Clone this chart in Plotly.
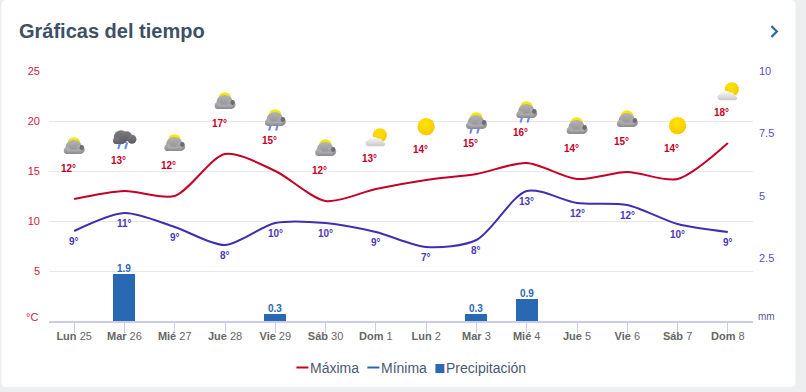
import base64
import plotly.graph_objects as go

day_names = ["Lun", "Mar", "Mié", "Jue", "Vie", "Sáb", "Dom", "Lun", "Mar", "Mié", "Jue", "Vie", "Sáb", "Dom"]
day_numbers = [25, 26, 27, 28, 29, 30, 1, 2, 3, 4, 5, 6, 7, 8]
max_curve = [12.2, 13.0, 12.5, 16.7, 15.0, 12.0, 13.2, 14.1, 14.7, 15.8, 14.2, 14.9, 14.2, 17.8]
min_curve = [9.0, 10.8, 9.4, 7.6, 9.8, 9.8, 8.9, 7.4, 8.1, 13.0, 11.8, 11.6, 9.7, 8.9]
max_labels = [12, 13, 12, 17, 15, 12, 13, 14, 15, 16, 14, 15, 14, 18]
min_labels = [9, 11, 9, 8, 10, 10, 9, 7, 8, 13, 12, 12, 10, 9]
rain = [None, 1.9, None, None, 0.3, None, None, None, 0.3, 0.9, None, None, None, None]
sky = ["partly", "storm", "partly", "partly", "shower", "partly", "fair", "sun",
       "shower", "shower", "partly", "partly", "sun", "fair"]
left_ticks = [5, 10, 15, 20, 25]
right_ticks = [2.5, 5, 7.5, 10]
names = ["Máxima", "Mínima", "Precipitación"]

W, H = 806, 392
L, R, T, B = 48.6, 53.4, 71, 71
pw, ph = W - L - R, H - T - B
RED, INDIGO, BLUE = "#c40028", "#3f2fb0", "#2968b2"
FONT = "Liberation Sans, Arial, sans-serif"


def px(x):
    return (x - L) / pw


def py(y):
    return (H - B - y) / ph


DEFS = """<defs>
<linearGradient id='g' x1='0' y1='0' x2='0' y2='1'><stop offset='0' stop-color='#b4b4b6'/><stop offset='1' stop-color='#88888c'/></linearGradient>
<linearGradient id='w' x1='0' y1='0' x2='0' y2='1'><stop offset='0' stop-color='#fafafa'/><stop offset='1' stop-color='#c8c8cc'/></linearGradient>
<linearGradient id='d' x1='0' y1='0' x2='0' y2='1'><stop offset='0' stop-color='#7c7c80'/><stop offset='1' stop-color='#5c5c62'/></linearGradient>
<radialGradient id='s' cx='.45' cy='.35' r='.7'><stop offset='0' stop-color='#ffe600'/><stop offset='1' stop-color='#f7c400'/></radialGradient>
<clipPath id='c'><rect x='0' y='0' width='26' height='22.2'/></clipPath>
</defs>"""
CLOUD = ("<g clip-path='url(#c)' fill='url(#{0})'><ellipse cx='12.6' cy='15.5' rx='8.2' ry='7.2'/>"
         "<circle cx='6' cy='19' r='3.4'/><circle cx='19.2' cy='17.8' r='4.4'/>"
         "<rect x='6' y='18' width='14' height='4.2'/></g>")
SUN_TOP = "<ellipse cx='12.8' cy='11' rx='6.2' ry='5.5' fill='#f5e800'/>"
SMUDGE = "<ellipse cx='20.6' cy='15.8' rx='2.2' ry='2.4' fill='#6e6e72'/>"
DROPS = "<path d='M8.5 21 L7 26 M15.5 21 L14 26' stroke='#6a8cf5' stroke-width='2.2' stroke-linecap='round'/>"
ICONS = {
    "partly": SUN_TOP + CLOUD.format("g") + SMUDGE,
    "shower": DROPS + SUN_TOP + CLOUD.format("g") + SMUDGE,
    "storm": DROPS.replace("21 L7 26", "19.5 L7 24.5").replace("21 L14 26", "19.5 L14 24.5")
             + "<g fill='url(#d)'><ellipse cx='9.5' cy='13.5' rx='7' ry='7'/><circle cx='15.5' cy='12.5' r='5'/>"
               "<circle cx='20.5' cy='15.5' r='4.5'/><circle cx='5' cy='17' r='3.4'/></g>",
    "sun": "<circle cx='13' cy='14' r='8.6' fill='url(#s)'/>",
    "fair": "<circle cx='17' cy='13.5' r='7' fill='url(#s)'/>"
            "<path d='M5.8 24.5 A2.9 2.9 0 0 1 4.8 18.8 A6 4.5 0 0 1 15 16.8 "
            "A4 4 0 0 1 20 20 A2.4 2.4 0 0 1 21 24.5 Z' fill='url(#w)'/>",
}


def icon_uri(kind):
    svg = f"<svg xmlns='http://www.w3.org/2000/svg' width='26' height='28' viewBox='0 0 26 28'>{DEFS}{ICONS[kind]}</svg>"
    return "data:image/svg+xml;base64," + base64.b64encode(svg.encode()).decode()


xs = list(range(len(day_names)))
fig = go.Figure()
fig.add_trace(go.Bar(x=xs, y=rain, yaxis="y2", width=0.44, marker=dict(color=BLUE, line_width=0),
                     cliponaxis=False, showlegend=False))
fig.add_trace(go.Scatter(x=xs, y=max_curve, mode="lines", showlegend=False,
                         line=dict(color=RED, width=2, shape="spline", smoothing=0.8)))
fig.add_trace(go.Scatter(x=xs, y=min_curve, mode="lines", showlegend=False,
                         line=dict(color=INDIGO, width=2, shape="spline", smoothing=0.8)))

ann = []
for i in xs:
    ann.append(dict(x=i, y=max_curve[i], xref="x", yref="y", text=f"<b>{max_labels[i]}°</b>", showarrow=False,
                    xshift=-6, yshift=31, font=dict(family=FONT, size=10, color=RED)))
    ann.append(dict(x=i, y=min_curve[i], xref="x", yref="y", text=f"<b>{min_labels[i]}°</b>", showarrow=False,
                    yshift=-10, font=dict(family=FONT, size=10, color="#4a3ab8")))
    if rain[i] is not None:
        ann.append(dict(x=i, y=rain[i], xref="x", yref="y2", text=f"<b>{rain[i]}</b>", showarrow=False,
                        yshift=5, font=dict(family=FONT, size=10, color=BLUE)))

images = [dict(source=icon_uri(sky[i]), xref="x", yref="y", x=i, y=max_curve[i] + 5.33,
               sizex=26 / 50.29, sizey=28 / 10.0, xanchor="center", yanchor="middle", layer="above",
               sizing="stretch") for i in xs]


def txt(x, y, s, size, color, anchor="left"):
    return dict(x=px(x), y=py(y), xref="paper", yref="paper", text=s, showarrow=False, xanchor=anchor,
                yanchor="middle", font=dict(family=FONT, size=size, color=color), borderpad=0, borderwidth=0)


ann.append(txt(19, 31, "<b>Gráficas del tiempo</b>", 20, "#3e4f66"))
ann.append(txt(38, 316.5, "°C", 11, "#d0213f", "right"))
ann.append(txt(758, 316.5, "mm", 10, "#5a5a8a"))
ann.append(txt(310, 368, names[0], 14, "#4a5a70"))
ann.append(txt(381, 368, names[1], 14, "#4a5a70"))
ann.append(txt(446, 368, names[2], 14, "#4a5a70"))


def rr(x0, y0, x1, y1, r):
    X0, X1, Y0, Y1 = px(x0), px(x1), py(y0), py(y1)
    rx, ry = r / pw, r / ph
    return (f"M{X0 + rx},{Y0} L{X1 - rx},{Y0} Q{X1},{Y0} {X1},{Y0 - ry} L{X1},{Y1 + ry} Q{X1},{Y1} {X1 - rx},{Y1} "
            f"L{X0 + rx},{Y1} Q{X0},{Y1} {X0},{Y1 + ry} L{X0},{Y0 - ry} Q{X0},{Y0} {X0 + rx},{Y0} Z")


shapes = [
    dict(type="path", xref="paper", yref="paper", layer="below", path=rr(1, 0, 795, 387, 5),
         fillcolor="white", line_width=0),
    dict(type="path", xref="paper", yref="paper",
         path=f"M{px(771)},{py(26)} L{px(776.5)},{py(31.5)} L{px(771)},{py(37)}", line=dict(color="#2a65a8", width=2.2)),
    dict(type="line", xref="paper", yref="paper", x0=px(296), x1=px(308), y0=py(367.5), y1=py(367.5),
         line=dict(color="#c8001e", width=2)),
    dict(type="line", xref="paper", yref="paper", x0=px(367), x1=px(379), y0=py(367.5), y1=py(367.5),
         line=dict(color=BLUE, width=2)),
    dict(type="rect", xref="paper", yref="paper", x0=px(435), x1=px(444), y0=py(364), y1=py(373),
         fillcolor=BLUE, line_width=0),
]

fig.update_layout(
    width=W, height=H, autosize=False, margin=dict(l=L, r=R, t=T, b=B, pad=0),
    paper_bgcolor="#eceef0", plot_bgcolor="rgba(0,0,0,0)", showlegend=False, bargap=0,
    font=dict(family=FONT),
    annotations=ann, images=images, shapes=shapes,
    xaxis=dict(range=[-0.5, len(xs) - 0.5], tickvals=xs,
               ticktext=[f"<b>{d}</b> {n}" for d, n in zip(day_names, day_numbers)],
               tickfont=dict(family=FONT, size=11, color="#666666"), ticks="outside", ticklen=10, tickwidth=1,
               tickcolor="#ccccea", showline=True, linecolor="#ccccea", linewidth=1.5, showgrid=False, zeroline=False,
               ticklabelstandoff=-6),
    yaxis=dict(range=[0, 25], tickvals=left_ticks, tickfont=dict(family=FONT, size=11, color="#d0213f"),
               gridcolor="#e8e8e8", gridwidth=1, zeroline=False, showline=False, ticks="", ticklabelstandoff=8),
    yaxis2=dict(range=[0, 10], overlaying="y", side="right", tickvals=right_ticks, ticktext=["2.5", "5", "7.5", "10"],
                tickfont=dict(family=FONT, size=11, color="#5a4fc0"), showgrid=False, zeroline=False, showline=False,
                ticks="", ticklabelstandoff=5),
)
fig.write_html("out.html", config=dict(displayModeBar=False),
               post_script="document.body.style.margin='0';document.body.style.background='#eceef0';")
